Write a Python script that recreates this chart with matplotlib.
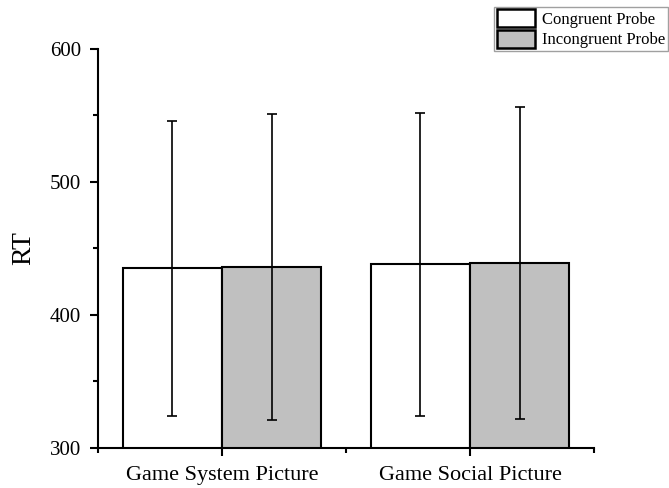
import matplotlib
matplotlib.use("Agg")
import matplotlib.pyplot as plt
import numpy as np
from matplotlib.ticker import FixedLocator, MultipleLocator

plt.rcParams["font.family"] = ["Liberation Serif", "DejaVu Serif"]

categories = ["Game System Picture", "Game Social Picture"]
series_names = ["Congruent Probe", "Incongruent Probe"]
congruent_rt = [435, 438]
incongruent_rt = [436, 439]
congruent_err = [111, 114]
incongruent_err = [115, 117]

colors = ["white", "#c0c0c0"]

fig = plt.figure(figsize=(6.69, 4.88), dpi=100)
ax = fig.add_axes([0.1465, 0.082, 0.7415, 0.818])

x = np.arange(1, len(categories) + 1)
width = 0.4

for offset, vals, errs, color, name in [
    (-width / 2, congruent_rt, congruent_err, colors[0], series_names[0]),
    (width / 2, incongruent_rt, incongruent_err, colors[1], series_names[1]),
]:
    ax.bar(x + offset, vals, width, color=color, edgecolor="black",
           linewidth=1.5, label=name, zorder=2)
    ax.errorbar(x + offset, vals, yerr=errs, fmt="none", ecolor="black",
                elinewidth=1.2, capsize=3.3, capthick=1.2, zorder=3)

ax.set_xlim(0.5, 2.5)
ax.set_ylim(300, 600)
ax.set_xticks(x)
ax.set_xticklabels(categories, fontsize=16)
ax.xaxis.set_minor_locator(FixedLocator([0.5, 1.5, 2.5]))
ax.set_yticks([300, 400, 500, 600])
ax.yaxis.set_minor_locator(MultipleLocator(50))
ax.tick_params(axis="y", labelsize=15, pad=6)
ax.tick_params(axis="x", pad=7)
ax.tick_params(which="major", direction="out", length=6, width=1.5)
ax.tick_params(which="minor", direction="out", length=3.5, width=1.5)
ax.set_ylabel("RT", fontsize=20, labelpad=10)

for side in ["top", "right"]:
    ax.spines[side].set_visible(False)
for side in ["left", "bottom"]:
    ax.spines[side].set_linewidth(1.5)

leg = fig.legend(loc="upper right", bbox_to_anchor=(0.998, 0.986), fontsize=12,
                 frameon=True, fancybox=False, edgecolor="#888888",
                 handlelength=2.3, handleheight=1.3, handletextpad=0.4,
                 borderpad=0.15, labelspacing=0.1, borderaxespad=0.0)
leg.get_frame().set_linewidth(1.0)
for patch in leg.get_patches():
    patch.set_linewidth(1.8)

fig.savefig("out.png", dpi=100)
plt.close(fig)
